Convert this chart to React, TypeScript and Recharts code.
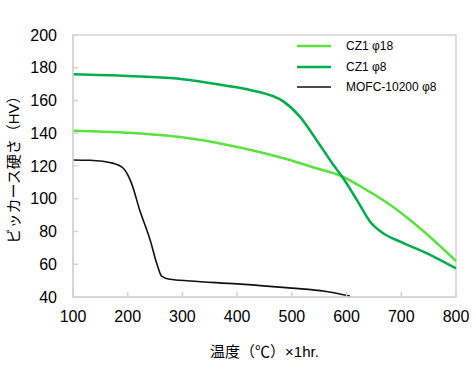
import React from 'react';
import { LineChart, Line, XAxis, YAxis, Label, ReferenceArea } from 'recharts';

// temperature (°C) vs Vickers hardness (HV)
const cz1Phi18 = [
  { t: 100, hv: 141.5 },
  { t: 200, hv: 140.3 },
  { t: 300, hv: 137.5 },
  { t: 380, hv: 133 },
  { t: 425, hv: 129.8 },
  { t: 485, hv: 124.7 },
  { t: 545, hv: 118.6 },
  { t: 590, hv: 113.9 },
  { t: 637, hv: 105.3 },
  { t: 680, hv: 96.2 },
  { t: 716, hv: 87 },
  { t: 752, hv: 76.8 },
  { t: 800, hv: 62 },
];

const cz1Phi8 = [
  { t: 100, hv: 176 },
  { t: 200, hv: 175 },
  { t: 290, hv: 173.5 },
  { t: 380, hv: 169 },
  { t: 424, hv: 166.4 },
  { t: 485, hv: 159.3 },
  { t: 515, hv: 150 },
  { t: 545, hv: 135.9 },
  { t: 576, hv: 120.6 },
  { t: 591, hv: 113.9 },
  { t: 619, hv: 99.2 },
  { t: 643, hv: 86 },
  { t: 667, hv: 78.9 },
  { t: 698, hv: 73.8 },
  { t: 747, hv: 66.7 },
  { t: 800, hv: 57.5 },
];

const mofc = [
  { t: 100, hv: 123.7 },
  { t: 131, hv: 123.5 },
  { t: 174, hv: 121.6 },
  { t: 192, hv: 118.6 },
  { t: 207, hv: 109.4 },
  { t: 222, hv: 93 },
  { t: 241, hv: 74.8 },
  { t: 253, hv: 60.6 },
  { t: 262, hv: 52.8 },
  { t: 277, hv: 50.8 },
  { t: 314, hv: 49.8 },
  { t: 400, hv: 48 },
  { t: 500, hv: 45.4 },
  { t: 560, hv: 43.5 },
  { t: 606, hv: 40.6 },
];

const xTicks = [100, 200, 300, 400, 500, 600, 700, 800];
const yTicks = [40, 60, 80, 100, 120, 140, 160, 180, 200];

const series = [
  { name: 'CZ1 φ18', data: cz1Phi18, color: '#5be23c', width: 2.5 },
  { name: 'CZ1 φ8', data: cz1Phi8, color: '#00ad4c', width: 2.5 },
  { name: 'MOFC-10200 φ8', data: mofc, color: '#111111', width: 1.6 },
];

const FONT = '"Liberation Sans", Arial, "Noto Sans CJK JP", sans-serif';
const FRAME = '#d3d3d3';

export default function App() {
  return (
    <div style={{ position: 'absolute', left: 0, top: 0, width: 475, height: 382, background: '#fff' }}>
      <LineChart width={475} height={382} margin={{ top: 35, right: 19, bottom: 0, left: 0 }}>
        <XAxis
          dataKey="t"
          type="number"
          domain={[100, 800]}
          ticks={xTicks}
          allowDuplicatedCategory={false}
          height={85}
          stroke={FRAME}
          strokeWidth={1.5}
          tickSize={-5}
          tickMargin={19}
          tick={{ fill: '#000', fontSize: 16, fontFamily: FONT }}
        >
          <Label
            value="温度（℃）×1hr."
            position="center"
            dy={12}
            style={{ fill: '#000', fontSize: 15, fontFamily: FONT }}
          />
        </XAxis>
        <YAxis
          type="number"
          domain={[40, 200]}
          ticks={yTicks}
          width={73}
          stroke={FRAME}
          strokeWidth={1.5}
          tickSize={-5}
          tickMargin={21}
          tick={{ fill: '#000', fontSize: 16, fontFamily: FONT }}
        >
          <Label
            value="ビッカース硬さ（HV）"
            position="center"
            angle={-90}
            dx={-22.5}
            style={{ fill: '#000', fontSize: 15, fontFamily: FONT, textAnchor: 'middle' }}
          />
        </YAxis>
        {/* plot frame */}
        <ReferenceArea
          x1={100}
          x2={800}
          y1={40}
          y2={200}
          fill="#ffffff"
          fillOpacity={0}
          stroke={FRAME}
          strokeWidth={1.5}
          strokeOpacity={1}
        />
        {series.map((s) => (
          <Line
            key={s.name}
            data={s.data}
            dataKey="hv"
            name={s.name}
            type="monotone"
            stroke={s.color}
            strokeWidth={s.width}
            dot={false}
            isAnimationActive={false}
          />
        ))}
      </LineChart>
      <div style={{ position: 'absolute', left: 297, top: 36, fontFamily: FONT, fontSize: 12, color: '#000' }}>
        {series.map((s) => (
          <div key={s.name} style={{ display: 'flex', alignItems: 'center', height: 20.5 }}>
            <svg width={34} height={4} style={{ marginRight: 15 }}>
              <line x1={0} y1={2} x2={34} y2={2} stroke={s.color} strokeWidth={s.width} />
            </svg>
            <span>{s.name}</span>
          </div>
        ))}
      </div>
    </div>
  );
}
